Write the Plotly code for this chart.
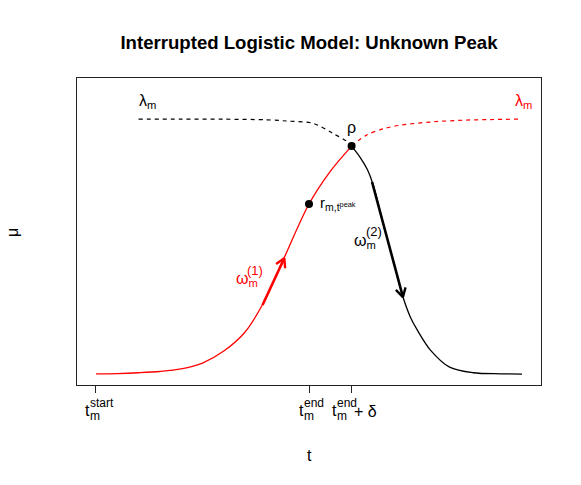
import math
import plotly.graph_objects as go

# Logistic growth curve (red, solid up to the peak, then dashed)
t_red = [0, 1, 2, 3, 4, 5, 6, 7, 7.8, 8.8, 10, 11, 12]
mu_red = [0.001, 0.002, 0.005, 0.01, 0.02, 0.043, 0.09, 0.165, 0.27, 0.45, 0.667, 0.795, 0.894]
t_red_dash = [12, 12.7, 13.5, 14.3, 15.8, 17.4, 18.5, 20]
mu_red_dash = [0.894, 0.937, 0.962, 0.976, 0.989, 0.996, 0.998, 1.0]

# Interrupted (decreasing) curve: dashed before the peak, solid after
t_black_dash = [2, 4, 6, 8, 9, 10.2, 11.1, 11.8, 12]
mu_black_dash = [1.0, 1.0, 0.9995, 0.997, 0.992, 0.983, 0.945, 0.911, 0.894]
t_black = [12, 12.4, 12.75, 13.0, 13.5, 14.0, 14.4, 14.75, 15.1, 15.7, 16.6, 17.7, 19, 20]
mu_black = [0.894, 0.85, 0.80, 0.745, 0.585, 0.43, 0.305, 0.225, 0.17, 0.094, 0.027, 0.005, 0.001, 0.0]

# Marked points
pt_t = [10, 12]
pt_mu = [0.667, 0.894]

# Arrows (start t, start mu, end t, end mu)
arrow_red = [7.82, 0.271, 8.84, 0.454]
arrow_black = [12.96, 0.753, 14.41, 0.302]

# x ticks
tick_vals = [0, 10, 12]

x_range = [-0.89, 20.89]
y_range = [-0.043, 1.161]
# page has an 8px body margin, so the figure is drawn 8px in from the corner
W, H = 573, 477
M = dict(l=69, r=40, t=70, b=100)
px_x = (W - M['l'] - M['r']) / (x_range[1] - x_range[0])
px_y = (H - M['t'] - M['b']) / (y_range[1] - y_range[0])

font = 'Liberation Sans, Arial, sans-serif'
fig = go.Figure()

fig.add_trace(go.Scatter(x=t_black_dash, y=mu_black_dash, mode='lines', line_shape='spline',
                         line=dict(color='black', width=1.2, dash='4px,4px', smoothing=0.9)))
fig.add_trace(go.Scatter(x=t_red_dash, y=mu_red_dash, mode='lines', line_shape='spline',
                         line=dict(color='red', width=1.2, dash='4px,4px', smoothing=0.9)))
fig.add_trace(go.Scatter(x=t_red, y=mu_red, mode='lines', line_shape='spline',
                         line=dict(color='red', width=1.3, smoothing=0.9)))
fig.add_trace(go.Scatter(x=t_black, y=mu_black, mode='lines', line_shape='spline',
                         line=dict(color='black', width=1.3, smoothing=0.9)))
fig.add_trace(go.Scatter(x=pt_t, y=pt_mu, mode='markers',
                         marker=dict(color='black', size=8)))


def add_arrow(a, color):
    x0, y0, x1, y1 = a
    fig.add_trace(go.Scatter(x=[x0, x1], y=[y0, y1], mode='lines',
                             line=dict(color=color, width=2.6)))
    # open V head, built in pixel space
    dx, dy = (x1 - x0) * px_x, (y1 - y0) * px_y
    ang = math.atan2(dy, dx)
    hx, hy = [], []
    for s in (1, -1):
        a2 = ang + math.pi + s * math.radians(30)
        hx.append(x1 + 10 * math.cos(a2) / px_x)
        hy.append(y1 + 10 * math.sin(a2) / px_y)
    fig.add_trace(go.Scatter(x=[hx[0], x1, hx[1]], y=[hy[0], y1, hy[1]], mode='lines',
                             line=dict(color=color, width=2.4)))


add_arrow(arrow_red, 'red')
add_arrow(arrow_black, 'black')


def txt(x, y, text, size=16, color='black', xanchor='center', xref='x', yref='y', angle=0):
    fig.add_annotation(x=x, y=y, xref=xref, yref=yref, text=text, showarrow=False,
                       xanchor=xanchor, yanchor='middle', textangle=angle,
                       font=dict(family=font, size=size, color=color))


txt(2.44, 1.07, 'λ<sub>m</sub>')
txt(20.05, 1.07, 'λ<sub>m</sub>', color='red')
txt(12, 0.965, 'ρ')
txt(10.4, 0.67, 'r<sub>m,t<sup>peak</sup></sub>', size=15, xanchor='left')

# omega labels
txt(6.48, 0.37, 'ω<sub>m</sub>', color='red', xanchor='left')
txt(7.0, 0.405, '(1)', size=13, color='red', xanchor='left')
txt(12.02, 0.52, 'ω<sub>m</sub>', xanchor='left')
txt(12.6, 0.558, '(2)', size=13, xanchor='left')

# tick labels (plotmath-like stacked sub/superscripts)
tick_parts = [
    [(0, -13, 25, 16, 't'), (0, -8, 31, 12, 'm'), (0, -8, 18, 12, 'start')],
    [(10, -12, 25, 16, 't'), (10, -7, 31, 12, 'm'), (10, -7, 18, 12, 'end')],
    [(12, -22, 25, 16, 't'), (12, -17, 31, 12, 'm'), (12, -17, 18, 12, 'end'),
     (12, 0, 26, 16, '+ δ')],
]
for parts in tick_parts:
    for xv, xs, ys, size, label in parts:
        fig.add_annotation(x=xv, y=0, xref='x', yref='paper', text=label, showarrow=False,
                           xanchor='left', yanchor='middle', xshift=xs, yshift=-ys,
                           font=dict(family=font, size=size, color='black'))

# axis titles
txt(10, (385 - 455) / 307, 't', xref='x', yref='paper')
txt((12 - 77) / 464, 0.495, 'μ', xref='paper', yref='paper', angle=-90)

fig.update_layout(
    width=W, height=H, margin=M,
    title=dict(text='<b>Interrupted Logistic Model: Unknown Peak</b>', x=0.5, xref='paper',
               y=1 - 34 / H, yanchor='middle', font=dict(family=font, size=18.6, color='black')),
    showlegend=False, plot_bgcolor='white', paper_bgcolor='white',
)
fig.update_xaxes(range=x_range, showgrid=False, zeroline=False, showline=True, mirror=True,
                 linecolor='#222', linewidth=1, ticks='outside', ticklen=7, tickcolor='#222',
                 tickvals=tick_vals, showticklabels=False)
fig.update_yaxes(range=y_range, showgrid=False, zeroline=False, showline=True, mirror=True,
                 linecolor='#222', linewidth=1, showticklabels=False, ticks='')

fig.write_html('out.html')
